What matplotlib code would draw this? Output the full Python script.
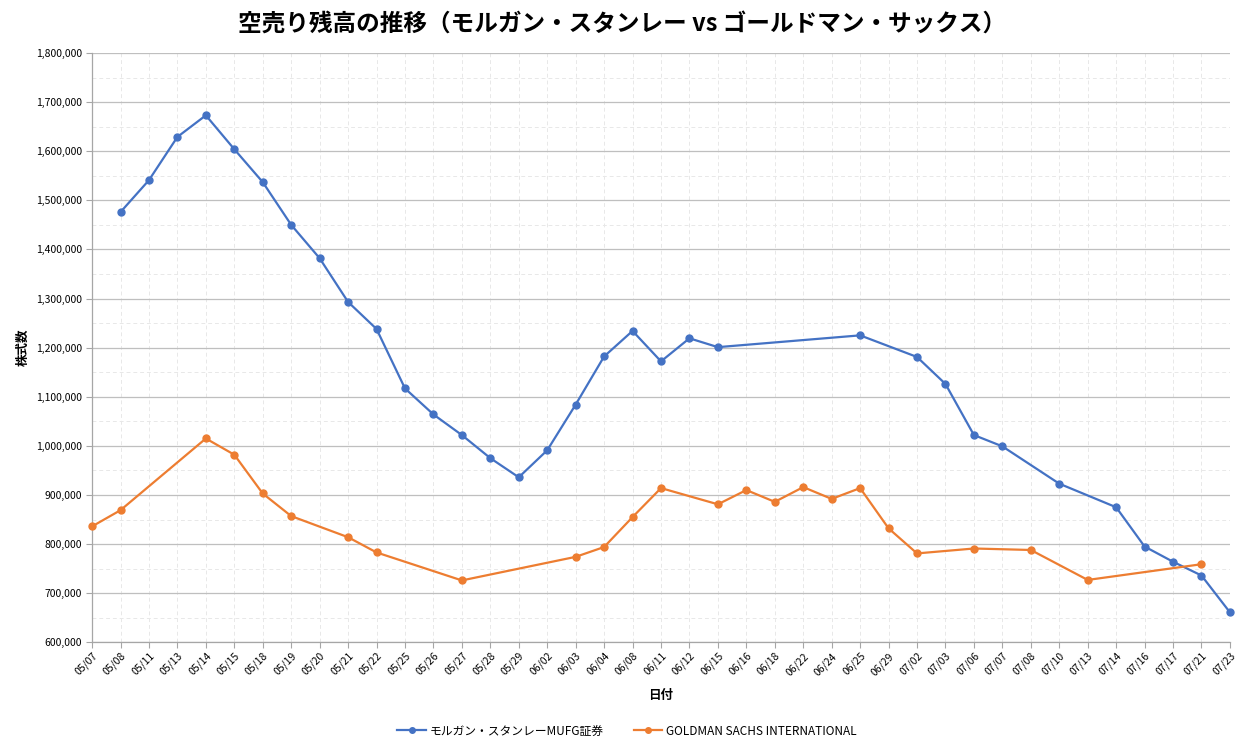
import numpy as np
import matplotlib.pyplot as plt
from matplotlib.lines import Line2D

plt.rcParams['font.family'] = ['Noto Sans CJK JP', 'DejaVu Sans']

# 日付カテゴリ (x軸)
dates = ['05/07', '05/08', '05/11', '05/13', '05/14', '05/15', '05/18', '05/19',
         '05/20', '05/21', '05/22', '05/25', '05/26', '05/27', '05/28', '05/29',
         '06/02', '06/03', '06/04', '06/08', '06/11', '06/12', '06/15', '06/16',
         '06/18', '06/22', '06/24', '06/25', '06/29', '07/02', '07/03', '07/06',
         '07/07', '07/08', '07/10', '07/13', '07/14', '07/16', '07/17', '07/21',
         '07/23']

# モルガン・スタンレーMUFG証券
ms_dates = ['05/08', '05/11', '05/13', '05/14', '05/15', '05/18', '05/19', '05/20',
            '05/21', '05/22', '05/25', '05/26', '05/27', '05/28', '05/29', '06/02',
            '06/03', '06/04', '06/08', '06/11', '06/12', '06/15', '06/25', '07/02',
            '07/03', '07/06', '07/07', '07/10', '07/14', '07/16', '07/17', '07/21',
            '07/23']
ms_values = [1476000, 1541000, 1629000, 1673000, 1604000, 1537000, 1450000, 1382000,
             1293000, 1238000, 1117000, 1064000, 1022000, 975000, 936000, 991000,
             1084000, 1182000, 1234000, 1172000, 1219000, 1201000, 1225000, 1181000,
             1126000, 1022000, 999000, 923000, 875000, 795000, 764000, 736000,
             661000]

# GOLDMAN SACHS INTERNATIONAL
gs_dates = ['05/07', '05/08', '05/14', '05/15', '05/18', '05/19', '05/21', '05/22',
            '05/27', '06/03', '06/04', '06/08', '06/11', '06/15', '06/16', '06/18',
            '06/22', '06/24', '06/25', '06/29', '07/02', '07/06', '07/08', '07/13',
            '07/21']
gs_values = [836000, 869000, 1015000, 982000, 903000, 857000, 814000, 783000,
             726000, 774000, 794000, 855000, 914000, 881000, 910000, 886000,
             916000, 892000, 914000, 832000, 781000, 791000, 788000, 727000,
             759000]

blue = '#4472C4'
orange = '#ED7D31'

fig = plt.figure(figsize=(12.44, 7.46), dpi=100)
ax = fig.add_axes([0.074, 0.139, 0.9147, 0.79])

idx = {d: i for i, d in enumerate(dates)}
ms_x = [idx[d] for d in ms_dates]
gs_x = [idx[d] for d in gs_dates]

ax.plot(ms_x, ms_values, color=blue, lw=1.6, marker='o', ms=5, zorder=3, clip_on=False)
ax.plot(gs_x, gs_values, color=orange, lw=1.6, marker='o', ms=5, zorder=3, clip_on=False)

ax.set_xlim(0, len(dates) - 1)
ax.set_ylim(600000, 1800000)
ax.set_xticks(range(len(dates)))
ax.set_xticklabels(dates, rotation=45, ha='right', rotation_mode='anchor', fontsize=7.5)
ax.set_yticks(np.arange(600000, 1800001, 100000))
ax.set_yticks(np.arange(650000, 1800000, 100000), minor=True)
ax.yaxis.set_major_formatter(plt.FuncFormatter(lambda v, p: f'{int(v):,}'))
ax.tick_params(axis='y', labelsize=7.5, length=4, color='#a6a6a6', pad=3)
ax.tick_params(axis='y', which='minor', length=0)
ax.tick_params(axis='x', length=4, color='#a6a6a6', pad=2)

ax.grid(axis='y', which='major', color='#bfbfbf', lw=0.9, ls='-')
ax.grid(axis='y', which='minor', color='#e8e8e8', lw=0.7, ls=(0, (4, 3)))
ax.grid(axis='x', which='major', color='#e8e8e8', lw=0.7, ls=(0, (4, 3)))
ax.set_axisbelow(True)

for s in ['top', 'right']:
    ax.spines[s].set_visible(False)
for s in ['left', 'bottom']:
    ax.spines[s].set_color('#a6a6a6')
    ax.spines[s].set_linewidth(0.9)

ax.set_xlabel('日付', fontsize=9, fontweight='bold', labelpad=8)
ax.set_ylabel('株式数', fontsize=9, fontweight='bold', labelpad=5)

fig.suptitle('空売り残高の推移（モルガン・スタンレー vs ゴールドマン・サックス）',
             fontsize=17, fontweight='bold', y=0.985)

handles = [Line2D([], [], color=blue, lw=1.6, marker='o', ms=4),
           Line2D([], [], color=orange, lw=1.6, marker='o', ms=4)]
fig.legend(handles, ['モルガン・スタンレーMUFG証券', 'GOLDMAN SACHS INTERNATIONAL'],
           loc='center', bbox_to_anchor=(0.504, 0.02), ncol=2, frameon=False,
           fontsize=8.5, columnspacing=2.6, handlelength=2.4, handletextpad=0.3)

fig.savefig('out.png', dpi=100)
